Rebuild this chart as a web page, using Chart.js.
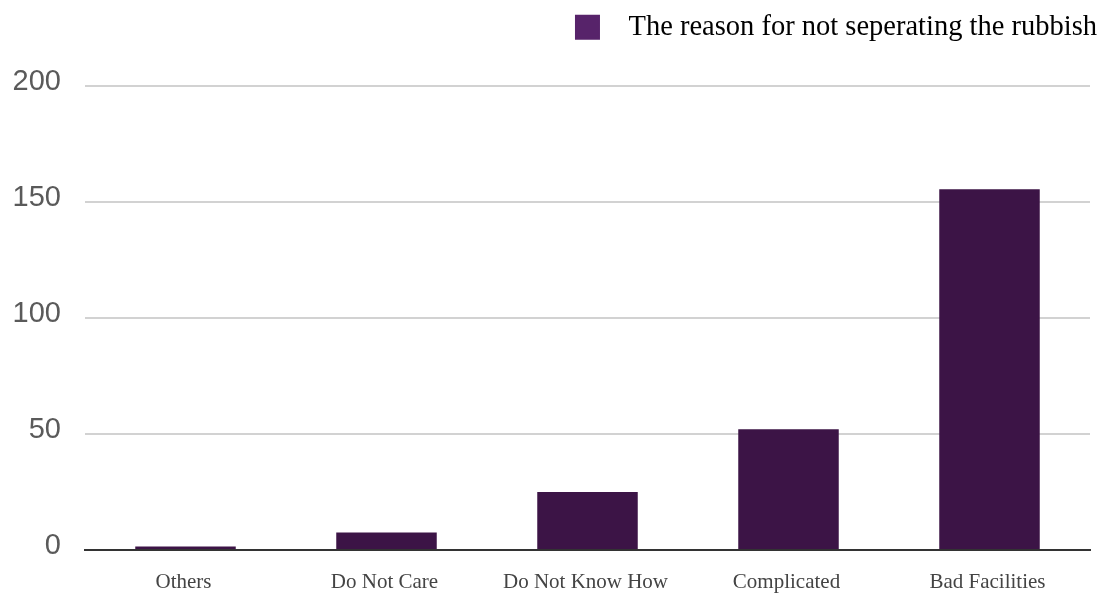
<!DOCTYPE html>
<html>
<head>
<meta charset="utf-8">
<script src="https://cdn.jsdelivr.net/npm/chart.js@4/dist/chart.umd.min.js"></script>
<style>
  html, body { margin: 0; padding: 0; background: #ffffff; overflow: hidden; }
  #wrap { width: 1107px; height: 594px; position: relative; }
  canvas { display: block; }
</style>
</head>
<body>
<div id="wrap"><canvas id="c" width="1107" height="594"></canvas></div>
<script>
const categories = ["Others", "Do Not Care", "Do Not Know How", "Complicated", "Bad Facilities"];
const seriesName = "The reason for not seperating the rubbish";
const seriesValues = [1.5, 7.5, 25, 52, 155.5];
const yTicks = [0, 50, 100, 150, 200];

const barColor = "#3c1446";
const legendColor = "#57236a";

// moves the library's legend box to the reference position (top edge / right edge)
const legendPlacer = {
  id: "legendPlacer",
  beforeDraw(chart) {
    const lg = chart.legend;
    if (!lg) return;
    const h = lg.height;
    lg.top = 0;
    lg.bottom = h;
    lg.right = 1110;
    lg.width = lg.right - lg.left;
  }
};

new Chart(document.getElementById("c"), {
  type: "bar",
  data: {
    labels: categories,
    datasets: [{
      label: seriesName,
      data: seriesValues,
      backgroundColor: barColor,
      borderWidth: 0,
      barPercentage: 0.5,
      categoryPercentage: 1.0
    }]
  },
  options: {
    responsive: false,
    animation: false,
    devicePixelRatio: 1,
    layout: { padding: { left: 0, right: 17, top: 34.5, bottom: 0 } },
    plugins: {
      tooltip: { enabled: false },
      legend: {
        display: true,
        position: "top",
        align: "end",
        labels: {
          boxWidth: 25,
          boxHeight: 25,
          padding: 13,
          color: "#333333",
          font: { family: "'Liberation Serif', 'Times New Roman', serif", size: 28.5 },
          generateLabels: (chart) => [{
            text: "  " + seriesName,
            fillStyle: legendColor,
            strokeStyle: legendColor,
            lineWidth: 0,
            hidden: false,
            datasetIndex: 0
          }]
        }
      }
    },
    scales: {
      x: {
        afterFit: (scale) => { scale.height = 44; },
        grid: { display: false, drawTicks: false },
        border: { display: true, color: "#333333", width: 2 },
        ticks: {
          padding: 20,
          labelOffset: -2,
          color: "#444444",
          font: { family: "'Liberation Serif', 'Times New Roman', serif", size: 21 },
          maxRotation: 0
        }
      },
      y: {
        min: 0,
        max: 200,
        afterBuildTicks: (scale) => { scale.ticks = yTicks.map(v => ({ value: v })); },
        afterFit: (scale) => { scale.width = 85; },
        grid: { color: "#d2d2d2", lineWidth: 2, drawTicks: false },
        border: { display: false },
        ticks: {
          padding: 24,
          labelOffset: -4,
          color: "#5a5a5a",
          font: { family: "'Liberation Sans', Arial, sans-serif", size: 29 }
        }
      }
    }
  },
  plugins: [legendPlacer]
});
</script>
</body>
</html>
